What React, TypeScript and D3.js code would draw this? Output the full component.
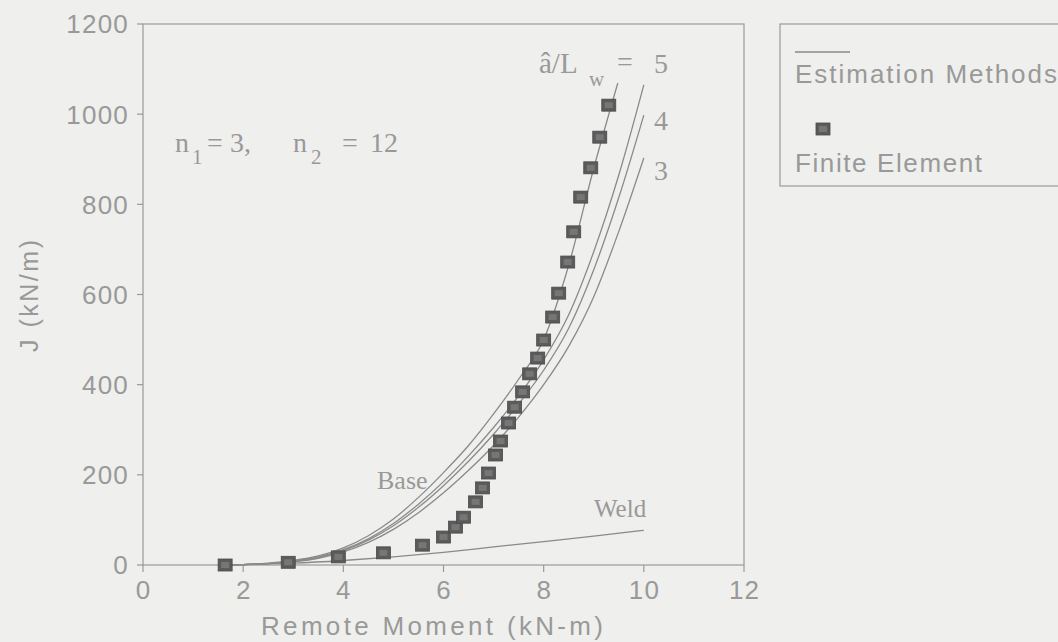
import React from "react";
import * as d3 from "d3";

// ---- data ----
const X_TICKS = [0, 2, 4, 6, 8, 10, 12];
const Y_TICKS = [0, 200, 400, 600, 800, 1000, 1200];

// Finite element results (Remote moment kN-m, J kN/m)
const FE_M = [1.64, 2.9, 3.9, 4.8, 5.58, 6.0, 6.24, 6.4, 6.64, 6.78, 6.9, 7.04, 7.14, 7.3, 7.42, 7.58, 7.72, 7.88, 8.0, 8.18, 8.3, 8.48, 8.6, 8.74, 8.94, 9.12, 9.3];
const FE_J = [0, 6, 18, 27, 44, 62, 84, 106, 140, 171, 204, 244, 275, 315, 350, 384, 424, 459, 499, 550, 603, 672, 739, 816, 881, 949, 1020];

// Estimation method curves
const BASE_M = [1.5, 2, 2.5, 3, 3.5, 4, 4.5, 5, 5.5, 6, 6.5, 7, 7.5, 8, 8.5, 9, 9.48];
const BASE_J = [0, 1, 4, 10, 20, 38, 65, 102, 150, 205, 265, 335, 412, 500, 665, 880, 1069];

const EST_M = [1.5, 2, 2.5, 3, 3.5, 4, 4.5, 5, 5.5, 6, 6.5, 7, 7.5, 8, 8.5, 9, 9.5, 10];
const EST5_J = [0, 1, 3, 9, 18, 34, 58, 92, 135, 185, 242, 305, 375, 455, 555, 695, 865, 1065];
const EST4_J = [0, 1, 3, 8, 17, 32, 55, 87, 128, 176, 230, 290, 357, 432, 525, 655, 815, 998];
const EST3_J = [0, 1, 3, 7, 15, 29, 50, 79, 116, 160, 210, 265, 328, 400, 485, 595, 740, 903];

const WELD_M = [1.5, 2, 3, 4, 5, 6, 7, 8, 9, 10];
const WELD_J = [0, 1, 4, 10, 18, 28, 40, 52, 64, 77];

const X_TITLE = "Remote Moment (kN-m)";
const Y_TITLE = "J (kN/m)";
const LEGEND_LABELS = ["Estimation Methods", "Finite Element"];

const W = 1058;
const H = 642;
const BG = "#efefed";
const INK = "#999";
const LINE = "#8a8a8a";

export default function App() {
  const x = d3.scaleLinear().domain([0, 12]).range([143, 744]);
  const y = d3.scaleLinear().domain([0, 1200]).range([565, 24]);

  const mk = (ms: number[], js: number[]) =>
    d3
      .line<number>()
      .x((_, i) => x(ms[i]))
      .y((_, i) => y(js[i]))
      .curve(d3.curveMonotoneX)(js) || "";

  const curves = [
    mk(BASE_M, BASE_J),
    mk(EST_M, EST5_J),
    mk(EST_M, EST4_J),
    mk(EST_M, EST3_J),
    mk(WELD_M, WELD_J),
  ];

  const sans = "'Liberation Sans', Arial, Helvetica, sans-serif";
  const serif = "'Liberation Serif', 'Times New Roman', serif";

  const Marker = ({ cx, cy }: { cx: number; cy: number }) => (
    <g>
      <rect x={cx - 7} y={cy - 6} width={14} height={12} fill="#5b5b5b" stroke="#4a4a4a" strokeWidth={0.8} />
      <rect x={cx - 4} y={cy - 3} width={8} height={6} fill="#767676" />
    </g>
  );

  return (
    <div style={{ position: "absolute", left: 0, top: 0 }}>
      <svg width={W} height={H} style={{ display: "block" }}>
        <rect x={0} y={0} width={W} height={H} fill={BG} />

        {/* plot frame */}
        <rect x={x(0)} y={y(1200)} width={x(12) - x(0)} height={y(0) - y(1200)} fill="none" stroke={INK} strokeWidth={1.2} />

        {/* y ticks */}
        {Y_TICKS.map((t) => (
          <g key={"y" + t}>
            <line x1={x(0) - 6} x2={x(0)} y1={y(t)} y2={y(t)} stroke={INK} strokeWidth={1.2} />
            <text x={x(0) - 14} y={y(t)} dy="0.36em" textAnchor="end" fontFamily={sans} fontSize={26} letterSpacing={1.2} fill={INK}>
              {t}
            </text>
          </g>
        ))}

        {/* x ticks */}
        {X_TICKS.map((t) => (
          <g key={"x" + t}>
            <line x1={x(t)} x2={x(t)} y1={y(0)} y2={y(0) + 7} stroke={INK} strokeWidth={1.2} />
            <text x={x(t) + 0.6} y={599} textAnchor="middle" fontFamily={sans} fontSize={26} letterSpacing={1.2} fill={INK}>
              {t}
            </text>
          </g>
        ))}

        {/* axis titles */}
        <text x={261} y={635} fontFamily={sans} fontSize={26} textLength={342} lengthAdjust="spacing" fill={INK}>
          {X_TITLE}
        </text>
        <text
          transform={`translate(38,352) rotate(-90)`}
          fontFamily={sans}
          fontSize={25}
          textLength={112}
          lengthAdjust="spacing"
          fill={INK}
        >
          {Y_TITLE}
        </text>

        {/* curves */}
        {curves.map((d, i) => (
          <path key={"c" + i} d={d} fill="none" stroke={LINE} strokeWidth={1.3} />
        ))}

        {/* finite element markers */}
        {FE_M.map((m, i) => (
          <Marker key={"fe" + i} cx={x(m)} cy={y(FE_J[i])} />
        ))}

        {/* annotations */}
        <g fontFamily={serif} fill={INK}>
          <text x={175} y={152} fontSize={28}>n</text>
          <text x={192} y={164} fontSize={21}>1</text>
          <text x={207} y={152} fontSize={28}>=</text>
          <text x={230} y={152} fontSize={28}>3,</text>
          <text x={293} y={152} fontSize={28}>n</text>
          <text x={311} y={164} fontSize={21}>2</text>
          <text x={342} y={152} fontSize={28}>=</text>
          <text x={370} y={152} fontSize={28}>12</text>

          <text x={539} y={73} fontSize={29}>â/L</text>
          <text x={589} y={86} fontSize={21}>w</text>
          <text x={617} y={71} fontSize={28}>=</text>
          <text x={654} y={73} fontSize={28}>5</text>
          <text x={654} y={130} fontSize={28}>4</text>
          <text x={654} y={180} fontSize={28}>3</text>

          <text x={377} y={489} fontSize={26}>Base</text>
          <text x={594} y={517} fontSize={25}>Weld</text>
        </g>

        {/* legend */}
        <rect x={780} y={24} width={300} height={162} fill="none" stroke={INK} strokeWidth={1.2} />
        <line x1={795} x2={850} y1={52} y2={52} stroke={LINE} strokeWidth={1.3} />
        <text x={795} y={83} fontFamily={sans} fontSize={26} textLength={262} lengthAdjust="spacing" fill={INK}>
          {LEGEND_LABELS[0]}
        </text>
        <Marker cx={823} cy={129} />
        <text x={795} y={172} fontFamily={sans} fontSize={26} textLength={187} lengthAdjust="spacing" fill={INK}>
          {LEGEND_LABELS[1]}
        </text>
      </svg>
    </div>
  );
}
